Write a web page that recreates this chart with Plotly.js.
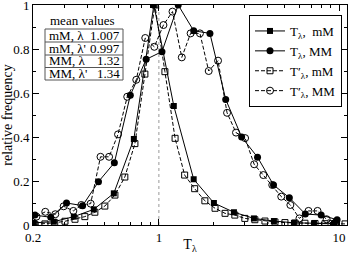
<!DOCTYPE html>
<html><head><meta charset="utf-8">
<script src="https://cdn.plot.ly/plotly-3.0.1.min.js"></script>
<style>html,body{margin:0;padding:0;background:#fff;}#c{width:349px;height:254px;}</style>
</head><body><div id="c"></div>
<script>
// T_lambda, mM (filled squares, solid)
const xTmM = [0.202,0.261,0.337,0.435,0.562,0.726,0.938,1.21,1.56,2.02,2.61,3.37,4.35,5.62,7.26,9.38];
const yTmM = [0.010,0.015,0.038,0.071,0.144,0.391,1.0,0.541,0.208,0.100,0.058,0.030,0.018,0.010,0.008,0.008];
// T_lambda, MM (filled circles, solid)
const xTMM = [0.205,0.251,0.307,0.377,0.462,0.566,0.694,0.850,1.04,1.28,1.56,1.92,2.35,2.88,3.53,4.33,5.30,6.50,7.96,9.76];
const yTMM = [0.045,0.035,0.100,0.088,0.197,0.283,0.590,0.753,0.788,1.0,0.883,0.871,0.571,0.400,0.308,0.182,0.124,0.050,0.045,0.024];
// T'_lambda, mM (open squares, dashed)
const xTpmM = [0.205,0.233,0.264,0.301,0.342,0.388,0.441,0.501,0.570,0.647,0.736,0.836,0.950,1.08,1.23,1.39,1.58,1.80,2.05,2.33,2.64,3.00,3.41,3.88,4.41,5.01,5.70,6.47,7.36,8.36,9.50,10.8];
const yTpmM = [0.003,0.005,0.010,0.017,0.026,0.038,0.058,0.086,0.136,0.218,0.370,0.686,1.0,0.697,0.394,0.227,0.165,0.110,0.076,0.053,0.045,0.030,0.024,0.018,0.014,0.011,0.009,0.008,0.007,0.006,0.006,0.005];
// T'_lambda, MM (open circles, dashed)
const xTpMM = [0.209,0.234,0.266,0.296,0.335,0.371,0.418,0.474,0.529,0.593,0.667,0.749,0.840,0.943,1.06,1.19,1.34,1.50,1.69,1.89,2.13,2.39,2.68,3.01,3.38,3.80,4.26,4.78,5.37,6.03,6.77,7.60,8.54,9.58];
const yTpMM = [0.038,0.060,0.049,0.085,0.064,0.091,0.097,0.310,0.310,0.412,0.583,0.660,0.850,0.810,0.909,0.970,0.762,0.871,0.871,0.700,0.747,0.510,0.420,0.395,0.276,0.227,0.182,0.129,0.091,0.030,0.064,0.064,0.026,0.012];

const legendNames = ["T<sub>λ</sub>,  mM","T<sub>λ</sub>, MM","T′<sub>λ</sub>, mM","T′<sub>λ</sub>, MM"];
const tableRows = ["mM, λ","mM, λ'","MM, λ","MM, λ'"];
const tableVals = ["1.007","0.997","1.32","1.34"];
const xTickVals = [0.2,1,10];
const xTickText = ["0.2","1","10"];
const xMinor = [0.3,0.4,0.5,0.6,0.7,0.8,0.9,2,3,4,5,6,7,8,9];
const yTickVals = [0,0.2,0.4,0.6,0.8,1];
const yTickText = ["0","0.2","0.4","0.6","0.8","1"];
const yMinor = [0.1,0.3,0.5,0.7,0.9];

const FONT = "Liberation Serif, Times New Roman, serif";
const traces = [
  {x:[1,1], y:[0,1], mode:'lines', line:{color:'#999', width:1, dash:'dot'}, showlegend:false, hoverinfo:'skip'},
  {x:xTmM, y:yTmM, name:legendNames[0], mode:'lines+markers', line:{color:'#000', width:1},
   marker:{symbol:'square', size:6, color:'#000'}},
  {x:xTMM, y:yTMM, name:legendNames[1], mode:'lines+markers', line:{color:'#000', width:1},
   marker:{symbol:'circle', size:7, color:'#000'}},
  {x:xTpmM, y:yTpmM, name:legendNames[2], mode:'lines+markers', line:{color:'#000', width:1, dash:'4px,2px'},
   marker:{symbol:'square-open', size:6, color:'#000', line:{width:1}}},
  {x:xTpMM, y:yTpMM, name:legendNames[3], mode:'lines+markers', line:{color:'#000', width:1, dash:'4px,2px'},
   marker:{symbol:'circle-open', size:7, color:'#000', line:{width:1}}}
];

const px = v => (v-33)/314;
const py = v => (225-v)/220;
const shapes = [
  {type:'rect', xref:'paper', yref:'paper', x0:px(45), x1:px(123), y0:py(80), y1:py(29), line:{color:'#555', width:1}},
  {type:'line', xref:'paper', yref:'paper', x0:px(45), x1:px(123), y0:py(42), y1:py(42), line:{color:'#555', width:1}},
  {type:'line', xref:'paper', yref:'paper', x0:px(45), x1:px(123), y0:py(55), y1:py(55), line:{color:'#555', width:1}},
  {type:'line', xref:'paper', yref:'paper', x0:px(45), x1:px(123), y0:py(67.5), y1:py(67.5), line:{color:'#555', width:1}}
];
const annotations = [
  {xref:'paper', yref:'paper', x:px(48), y:py(20), text:'mean values', showarrow:false, xanchor:'left', yanchor:'middle', font:{family:FONT, size:13, color:'#000'}}
];
const rowY = [35.5,48.5,61,73.5];
for (let i=0;i<4;i++){
  annotations.push({xref:'paper', yref:'paper', x:px(47), y:py(rowY[i]), text:tableRows[i], showarrow:false, xanchor:'left', yanchor:'middle', font:{family:FONT, size:13, color:'#000'}});
  annotations.push({xref:'paper', yref:'paper', x:px(122), y:py(rowY[i]), text:tableVals[i], showarrow:false, xanchor:'right', yanchor:'middle', font:{family:FONT, size:13, color:'#000'}});
}

const layout = {
  width:349, height:254,
  margin:{l:33, r:2, t:5, b:29},
  paper_bgcolor:'#fff', plot_bgcolor:'#fff',
  font:{family:FONT, size:13, color:'#000'},
  showlegend:true,
  legend:{x:px(342), y:py(15), xanchor:'right', yanchor:'top', bordercolor:'#000', borderwidth:1, bgcolor:'#fff',
    font:{family:FONT, size:13, color:'#000'}, itemwidth:30, tracegroupgap:0},
  xaxis:{type:'log', range:[Math.log10(0.2), 1.0444], tickmode:'array', tickvals:xTickVals, ticktext:xTickText,
    ticks:'inside', ticklen:6, tickcolor:'#000', showline:true, linecolor:'#000', linewidth:1, mirror:'ticks',
    showgrid:false, zeroline:false, ticklabeloverflow:'allow', tickfont:{family:FONT, size:13},
    minor:{tickmode:'array', tickvals:xMinor, ticks:'inside', ticklen:3, tickcolor:'#000', showgrid:false},
    title:{text:'T<sub>λ</sub>', font:{family:FONT, size:14}, standoff:6}},
  yaxis:{type:'linear', range:[0,1], tickmode:'array', tickvals:yTickVals, ticktext:yTickText,
    ticks:'inside', ticklen:6, tickcolor:'#000', showline:true, linecolor:'#000', linewidth:1, mirror:'ticks',
    showgrid:false, zeroline:false, ticklabeloverflow:'allow', tickfont:{family:FONT, size:13, color:'#000'},
    minor:{tickmode:'array', tickvals:yMinor, ticks:'inside', ticklen:3, tickcolor:'#000', showgrid:false},
    title:{text:'relative frequency', font:{family:FONT, size:14}}},
  shapes:shapes, annotations:annotations
};
Plotly.newPlot('c', traces, layout, {staticPlot:true, displayModeBar:false});
</script></body></html>
